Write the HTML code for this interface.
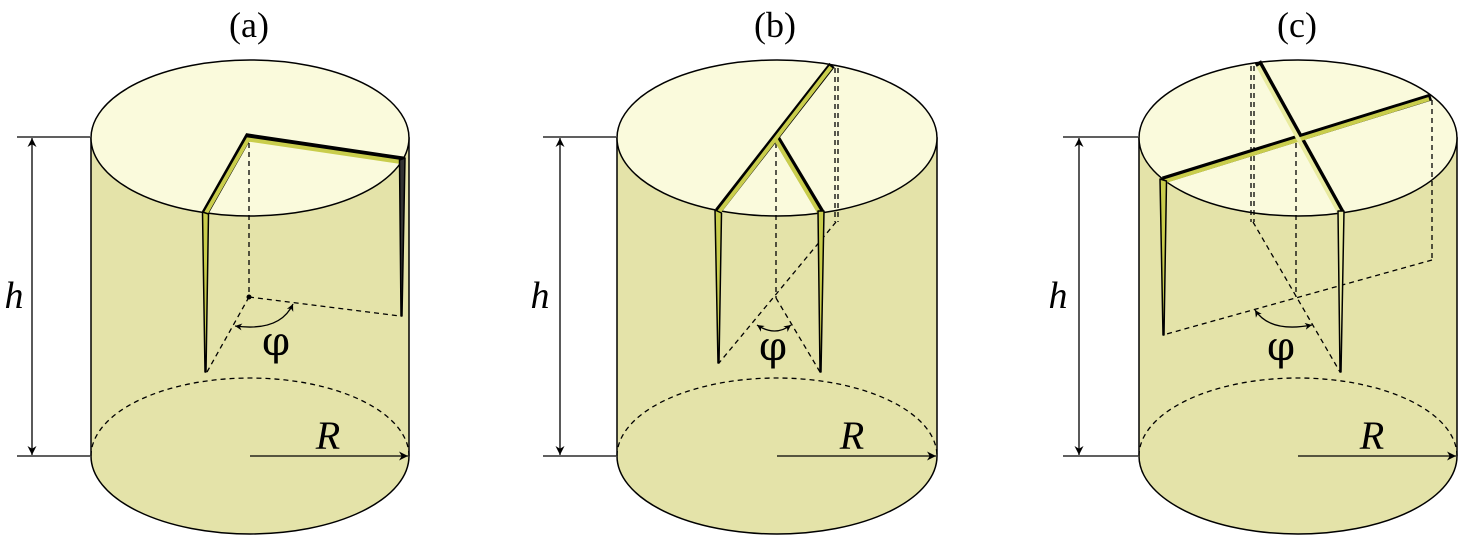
<!DOCTYPE html>
<html><head><meta charset="utf-8"><style>
html,body{margin:0;padding:0;background:#fff;}
svg{display:block;}
</style></head><body>
<svg width="1465" height="550" viewBox="0 0 1465 550" xmlns="http://www.w3.org/2000/svg" font-family="Liberation Serif, serif">
<defs>
<marker id="ar" viewBox="0 0 10 10" refX="10" refY="5" markerWidth="11" markerHeight="9" orient="auto-start-reverse" markerUnits="userSpaceOnUse">
<path d="M0,0 L10,5 L0,10 L3,5 Z" fill="#000"/></marker>
<marker id="as" viewBox="0 0 10 10" refX="10" refY="5" markerWidth="8" markerHeight="7" orient="auto-start-reverse" markerUnits="userSpaceOnUse">
<path d="M0,0 L10,5 L0,10 L3,5 Z" fill="#000"/></marker>
</defs>

<text x="249" y="37" font-size="36" text-anchor="middle" font-family="Liberation Serif, serif">(a)</text>
<text x="775" y="37" font-size="36" text-anchor="middle" font-family="Liberation Serif, serif">(b)</text>
<text x="1297" y="37" font-size="36" text-anchor="middle" font-family="Liberation Serif, serif">(c)</text>

<!-- ===== Cylinder A ===== -->
<g>
<path d="M91,138 L91,456 A159,78 0 0 0 409,456 L409,138 Z" fill="#e4e3a9" stroke="#000" stroke-width="1.5"/>
<ellipse cx="250" cy="138" rx="159" ry="78" fill="#fafadc" stroke="#000" stroke-width="1.5"/>
<path d="M91,456 A159,78 0 0 1 409,456" fill="none" stroke="#000" stroke-width="1.3" stroke-dasharray="5,4"/>
<line x1="17" y1="137" x2="90" y2="137" stroke="#000" stroke-width="1.3"/>
<line x1="17" y1="456" x2="90" y2="456" stroke="#000" stroke-width="1.3"/>
<line x1="32" y1="138" x2="32" y2="455" stroke="#000" stroke-width="1.3" marker-start="url(#ar)" marker-end="url(#ar)"/>
<text x="14" y="308" font-size="38" font-style="italic" text-anchor="middle" font-family="Liberation Serif, DejaVu Serif, serif">h</text>
<line x1="250" y1="456" x2="408" y2="456" stroke="#000" stroke-width="1.3" marker-end="url(#ar)"/>
<text x="328" y="449" font-size="40" font-style="italic" text-anchor="middle" font-family="Liberation Serif, DejaVu Serif, serif">R</text>
<g stroke="#000" stroke-width="1.3" stroke-dasharray="5,4" fill="none">
<line x1="249" y1="143" x2="249" y2="297"/>
<line x1="249" y1="297" x2="400" y2="316"/>
<line x1="249" y1="297" x2="207" y2="372"/>
</g>
<circle cx="249" cy="297" r="2.5" fill="#000"/>
<path d="M235,326 Q280,332 293,304" fill="none" stroke="#000" stroke-width="1.3" marker-start="url(#as)" marker-end="url(#as)"/>
<text x="276" y="355" font-size="40" text-anchor="middle" font-family="DejaVu Serif, serif">φ</text>
<polyline points="205,213 248,137 403,160" fill="none" stroke="#000" stroke-width="7" stroke-linejoin="miter"/>
<polyline points="206,213 248,139.5 401,162" fill="none" stroke="#c9cd4c" stroke-width="4"/>
<polygon points="202.5,212 208.5,214 206,372 205,372" fill="#c9cd4c" stroke="#000" stroke-width="1.5" stroke-linejoin="round"/>
<polygon points="399.5,160 405,158 402,316 401,316" fill="#333" stroke="#000" stroke-width="1.5" stroke-linejoin="round"/>
</g>

<!-- ===== Cylinder B ===== -->
<g>
<path d="M617,138 L617,456 A160,78 0 0 0 937,456 L937,138 Z" fill="#e4e3a9" stroke="#000" stroke-width="1.5"/>
<ellipse cx="777" cy="138" rx="160" ry="78" fill="#fafadc" stroke="#000" stroke-width="1.5"/>
<path d="M617,456 A160,78 0 0 1 937,456" fill="none" stroke="#000" stroke-width="1.3" stroke-dasharray="5,4"/>
<line x1="543" y1="137" x2="616" y2="137" stroke="#000" stroke-width="1.3"/>
<line x1="543" y1="456" x2="616" y2="456" stroke="#000" stroke-width="1.3"/>
<line x1="560" y1="138" x2="560" y2="455" stroke="#000" stroke-width="1.3" marker-start="url(#ar)" marker-end="url(#ar)"/>
<text x="540" y="308" font-size="38" font-style="italic" text-anchor="middle" font-family="Liberation Serif, DejaVu Serif, serif">h</text>
<line x1="777" y1="456" x2="936" y2="456" stroke="#000" stroke-width="1.3" marker-end="url(#ar)"/>
<text x="852" y="449" font-size="40" font-style="italic" text-anchor="middle" font-family="Liberation Serif, DejaVu Serif, serif">R</text>
<g stroke="#000" stroke-width="1.3" stroke-dasharray="5,4" fill="none">
<line x1="835" y1="68" x2="835" y2="222"/>
<line x1="838" y1="68" x2="838" y2="222"/>
<line x1="836" y1="222" x2="719" y2="363"/>
<line x1="776" y1="143" x2="776" y2="298"/>
<line x1="776" y1="298" x2="820" y2="372"/>
</g>
<path d="M757,325 Q775,337 791,325" fill="none" stroke="#000" stroke-width="1.3" marker-start="url(#as)" marker-end="url(#as)"/>
<text x="773" y="360" font-size="40" text-anchor="middle" font-family="DejaVu Serif, serif">φ</text>
<polyline points="718,211 832,65" fill="none" stroke="#000" stroke-width="7"/>
<polyline points="776,137 821,212" fill="none" stroke="#000" stroke-width="7"/>
<polyline points="719,212 831,67" fill="none" stroke="#c9cd4c" stroke-width="4"/>
<polyline points="776,140 820,214" fill="none" stroke="#c9cd4c" stroke-width="4"/>
<polygon points="715,210 721.5,213 719,363 718,363" fill="#c9cd4c" stroke="#000" stroke-width="1.5" stroke-linejoin="round"/>
<polygon points="818,211 824,211 821,372 820,372" fill="#c9cd4c" stroke="#000" stroke-width="1.5" stroke-linejoin="round"/>
</g>

<!-- ===== Cylinder C ===== -->
<g>
<path d="M1139,138 L1139,456 A159,78 0 0 0 1457,456 L1457,138 Z" fill="#e4e3a9" stroke="#000" stroke-width="1.5"/>
<ellipse cx="1298" cy="138" rx="159" ry="78" fill="#fafadc" stroke="#000" stroke-width="1.5"/>
<path d="M1139,456 A159,78 0 0 1 1457,456" fill="none" stroke="#000" stroke-width="1.3" stroke-dasharray="5,4"/>
<line x1="1063" y1="137" x2="1138" y2="137" stroke="#000" stroke-width="1.3"/>
<line x1="1063" y1="456" x2="1138" y2="456" stroke="#000" stroke-width="1.3"/>
<line x1="1079" y1="138" x2="1079" y2="455" stroke="#000" stroke-width="1.3" marker-start="url(#ar)" marker-end="url(#ar)"/>
<text x="1058" y="308" font-size="38" font-style="italic" text-anchor="middle" font-family="Liberation Serif, DejaVu Serif, serif">h</text>
<line x1="1298" y1="456" x2="1456" y2="456" stroke="#000" stroke-width="1.3" marker-end="url(#ar)"/>
<text x="1372" y="449" font-size="40" font-style="italic" text-anchor="middle" font-family="Liberation Serif, DejaVu Serif, serif">R</text>
<g stroke="#000" stroke-width="1.3" stroke-dasharray="5,4" fill="none">
<line x1="1251" y1="66" x2="1251" y2="222"/>
<line x1="1254" y1="66" x2="1254" y2="222"/>
<line x1="1253" y1="222" x2="1340" y2="372"/>
<line x1="1296" y1="143" x2="1296" y2="297"/>
<line x1="1432" y1="100" x2="1432" y2="260"/>
<line x1="1432" y1="260" x2="1163" y2="335"/>
</g>
<path d="M1255,310 Q1270,333 1312,325" fill="none" stroke="#000" stroke-width="1.3" marker-start="url(#as)" marker-end="url(#as)"/>
<text x="1281" y="360" font-size="40" text-anchor="middle" font-family="DejaVu Serif, serif">φ</text>
<polyline points="1163,180 1431,97" fill="none" stroke="#000" stroke-width="7"/>
<polyline points="1258,62 1341,212" fill="none" stroke="#000" stroke-width="7"/>
<polyline points="1164,181.5 1429,99" fill="none" stroke="#c9cd4c" stroke-width="4"/>
<polyline points="1258,66 1340,214" fill="none" stroke="#e9eba0" stroke-width="4"/>
<polygon points="1160,179 1166.5,181 1164,335 1163,335" fill="#c9cd4c" stroke="#000" stroke-width="1.5" stroke-linejoin="round"/>
<polygon points="1338,211 1344,211 1341,372 1340,372" fill="#e9eba0" stroke="#000" stroke-width="1.5" stroke-linejoin="round"/>
</g>
</svg>
</body></html>
